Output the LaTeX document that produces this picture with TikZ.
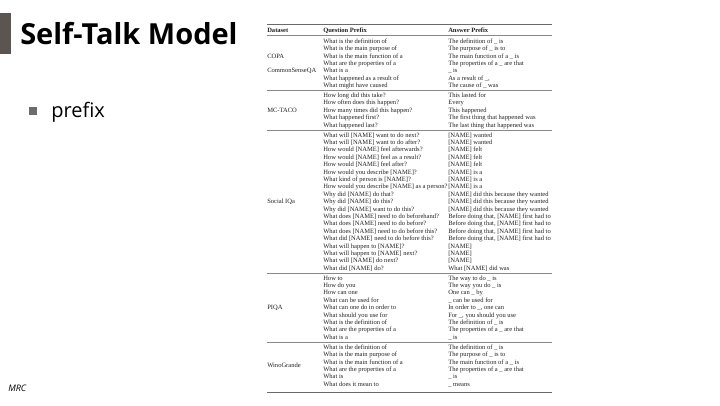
\documentclass[tikz,border=0pt]{standalone}
\usepackage{fontspec}
\setmainfont{Liberation Serif}
\newfontfamily\osans{Open Sans}
\definecolor{barcol}{HTML}{5A5551}
\definecolor{bulcol}{HTML}{6B6B6B}
\definecolor{rulecol}{HTML}{6A6A6A}
\definecolor{tabtext}{HTML}{222222}
\begin{document}
\begin{tikzpicture}[x=0.75pt,y=-0.75pt,
  cell/.style={anchor=base west, inner sep=0pt, text=tabtext, font=\fontsize{4.9}{5.5}\selectfont},
  head/.style={cell, font=\fontsize{4.9}{5.5}\selectfont\bfseries},
  thickrule/.style={draw=rulecol, line width=1pt},
  thinrule/.style={draw=rulecol!80, line width=0.45pt}]
\useasboundingbox (0,0) rectangle (720,405);
\fill[white] (0,0) rectangle (720,405);
% title
\fill[barcol] (0,13) rectangle (10.5,54);
\node[anchor=base west, inner sep=0pt, font=\osans\bfseries\fontsize{21.75}{24}\selectfont] (title) at (20,44) {Self-Talk Model};
\node[fill=bulcol, minimum size=6pt, inner sep=0pt] (bul) at (33,111) {};
\node[anchor=base west, inner sep=0pt, font=\osans\fontsize{15}{18}\selectfont] (prefix) at (51,117) {prefix};
\node[anchor=base west, inner sep=0pt, font=\osans\itshape\fontsize{6.75}{8}\selectfont] (mrc) at (8,391) {MRC};
% table columns
\def\cA{267}\def\cB{323}\def\cC{448}\def\p{7.4}\def\bo{2.2}
\draw[thickrule] (267,24.5) -- (551.5,24.5);
\node[head] (h1) at (\cA,30.5+\bo) {Dataset};
\node[head] (h2) at (\cB,30.5+\bo) {Question Prefix};
\node[head] (h3) at (\cC,30.5+\bo) {Answer Prefix};
\draw[thinrule] (267,35) -- (551.5,35);
% COPA
\foreach \q/\a [count=\i] in {
 {What is the definition of}/{The definition of \_ is},
 {What is the main purpose of}/{The purpose of \_ is to},
 {What is the main function of a}/{The main function of a \_ is},
 {What are the properties of a}/{The properties of a \_ are that},
 {What is a}/{\_ is},
 {What happened as a result of}/{As a result of \_,},
 {What might have caused}/{The cause of \_ was}}{
 \node[cell] (cq\i) at (\cB,{41+(\i-1)*\p+\bo}) {\q};
 \node[cell] (ca\i) at (\cC,{41+(\i-1)*\p+\bo}) {\a};
}
\node[cell] (copa) at (\cA,{41+2*\p+\bo}) {COPA};
\node[cell] (csqa) at (\cA,{41+4*\p+\bo}) {CommonSenseQA};
\draw[thinrule] (267,90.5) -- (551.5,90.5);
% MC-TACO
\foreach \q/\a [count=\i] in {
 {How long did this take?}/{This lasted for},
 {How often does this happen?}/{Every},
 {How many times did this happen?}/{This happened},
 {What happened first?}/{The first thing that happened was},
 {What happened last?}/{The last thing that happened was}}{
 \node[cell] (mq\i) at (\cB,{95.3+(\i-1)*\p+\bo}) {\q};
 \node[cell] (ma\i) at (\cC,{95.3+(\i-1)*\p+\bo}) {\a};
}
\node[cell] (mctaco) at (\cA,{95.3+2*\p+\bo}) {MC-TACO};
\draw[thinrule] (267,130.2) -- (551.5,130.2);
% Social IQa
\foreach \q/\a [count=\i] in {
 {What will [NAME] want to do next?}/{[NAME] wanted},
 {What will [NAME] want to do after?}/{[NAME] wanted},
 {How would [NAME] feel afterwards?}/{[NAME] felt},
 {How would [NAME] feel as a result?}/{[NAME] felt},
 {How would [NAME] feel after?}/{[NAME] felt},
 {How would you describe [NAME]?}/{[NAME] is a},
 {What kind of person is [NAME]?}/{[NAME] is a},
 {How would you describe [NAME] as a person?}/{[NAME] is a},
 {Why did [NAME] do that?}/{[NAME] did this because they wanted},
 {Why did [NAME] do this?}/{[NAME] did this because they wanted},
 {Why did [NAME] want to do this?}/{[NAME] did this because they wanted},
 {What does [NAME] need to do beforehand?}/{Before doing that, [NAME] first had to},
 {What does [NAME] need to do before?}/{Before doing that, [NAME] first had to},
 {What does [NAME] need to do before this?}/{Before doing that, [NAME] first had to},
 {What did [NAME] need to do before this?}/{Before doing that, [NAME] first had to},
 {What will happen to [NAME]?}/{[NAME]},
 {What will happen to [NAME] next?}/{[NAME]},
 {What will [NAME] do next?}/{[NAME]},
 {What did [NAME] do?}/{What [NAME] did was}}{
 \node[cell] (sq\i) at (\cB,{134.8+(\i-1)*\p+\bo}) {\q};
 \node[cell] (sa\i) at (\cC,{134.8+(\i-1)*\p+\bo}) {\a};
}
\node[cell] (siqa) at (\cA,{134.8+9*\p+\bo}) {Social IQa};
\draw[thinrule] (267,273) -- (551.5,273);
% PIQA
\foreach \q/\a [count=\i] in {
 {How to}/{The way to do \_ is},
 {How do you}/{The way you do \_ is},
 {How can one}/{One can \_ by},
 {What can be used for}/{\_ can be used for},
 {What can one do in order to}/{In order to \_, one can},
 {What should you use for}/{For \_, you should you use},
 {What is the definition of}/{The definition of \_ is},
 {What are the properties of a}/{The properties of a \_ are that},
 {What is a}/{\_ is}}{
 \node[cell] (pq\i) at (\cB,{277.9+(\i-1)*\p+\bo}) {\q};
 \node[cell] (pa\i) at (\cC,{277.9+(\i-1)*\p+\bo}) {\a};
}
\node[cell] (piqa) at (\cA,{277.9+4*\p+\bo}) {PIQA};
\draw[thinrule] (267,342) -- (551.5,342);
% WinoGrande
\foreach \q/\a [count=\i] in {
 {What is the definition of}/{The definition of \_ is},
 {What is the main purpose of}/{The purpose of \_ is to},
 {What is the main function of a}/{The main function of a \_ is},
 {What are the properties of a}/{The properties of a \_ are that},
 {What is}/{\_ is},
 {What does it mean to}/{\_ means}}{
 \node[cell] (wq\i) at (\cB,{347+(\i-1)*\p+\bo}) {\q};
 \node[cell] (wa\i) at (\cC,{347+(\i-1)*\p+\bo}) {\a};
}
\node[cell] (wino) at (\cA,{347+2.5*\p+\bo}) {WinoGrande};
\draw[thickrule] (267,392.5) -- (551.5,392.5);
\end{tikzpicture}
\end{document}
